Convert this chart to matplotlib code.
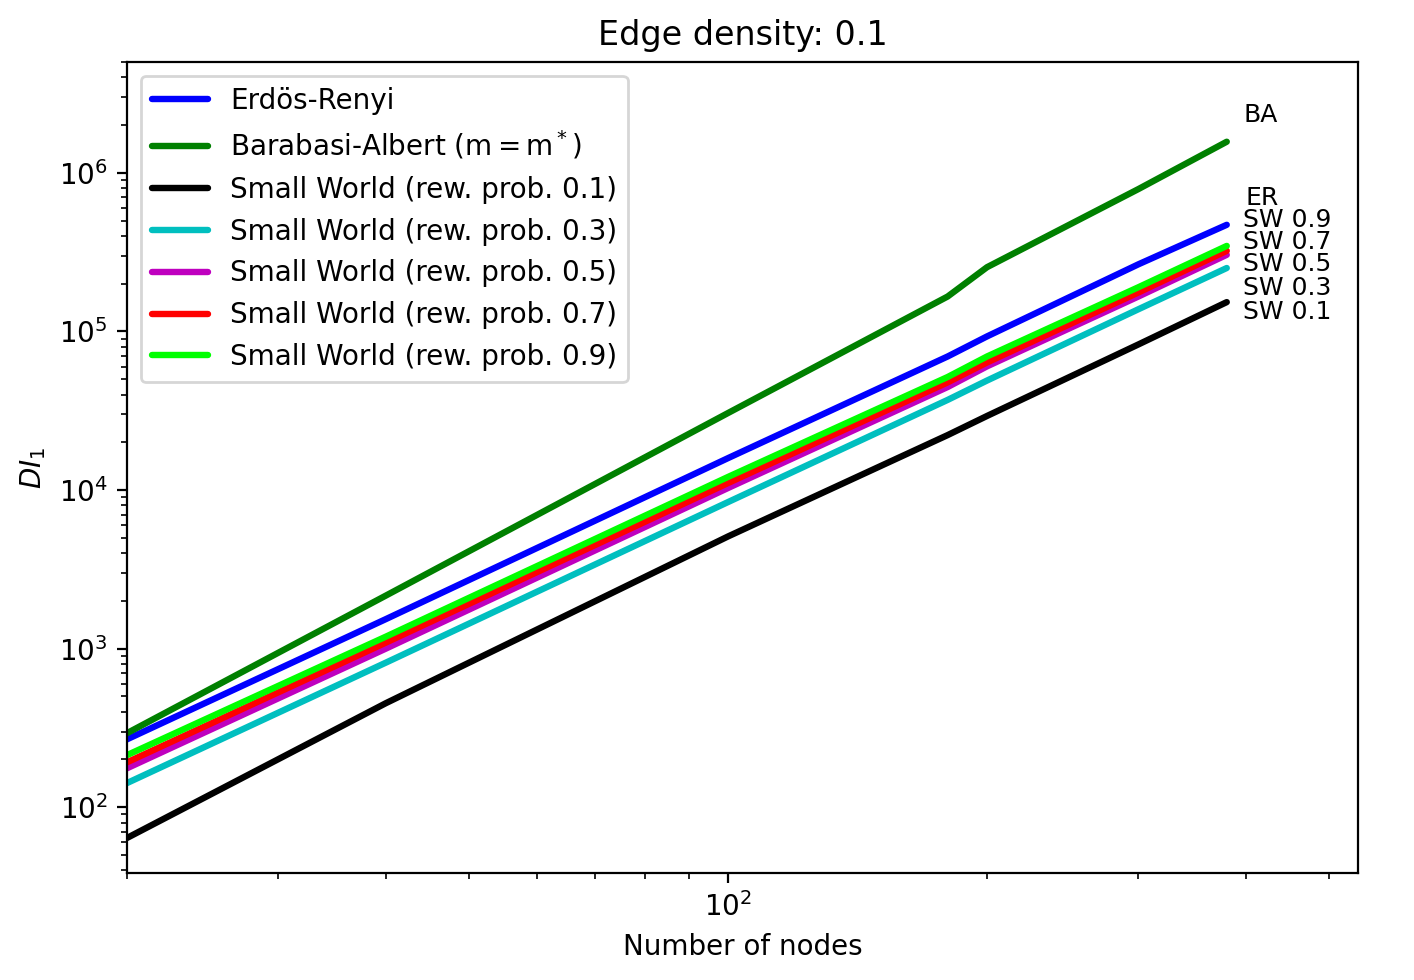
import matplotlib
matplotlib.use("Agg")
import matplotlib.pyplot as plt

nodes = [20, 40, 100, 180, 200, 300, 380]
er = [268, 1535, 15900, 69500, 93000, 265000, 470000]
ba = [293, 2160, 30600, 166000, 254000, 790000, 1570000]
sw01 = [64, 453, 5100, 22200, 29300, 82800, 153000]
sw03 = [142, 816, 8400, 37000, 49000, 138000, 251000]
sw05 = [176, 1000, 10300, 44600, 60200, 166000, 304000]
sw07 = [192, 1091, 11070, 47700, 63700, 176000, 322000]
sw09 = [213, 1190, 12100, 51600, 69500, 190000, 346000]

series = [
    ("Erdös-Renyi", er, "b"),
    (r"Barabasi-Albert $(\mathrm{m = m^*})$", ba, "g"),
    ("Small World (rew. prob. 0.1)", sw01, "k"),
    ("Small World (rew. prob. 0.3)", sw03, "c"),
    ("Small World (rew. prob. 0.5)", sw05, "m"),
    ("Small World (rew. prob. 0.7)", sw07, "r"),
    ("Small World (rew. prob. 0.9)", sw09, "lime"),
]

end_labels = ["BA", "ER", "SW 0.9", "SW 0.7", "SW 0.5", "SW 0.3", "SW 0.1"]
label_pos = [(397, 2.32e6), (400, 6.95e5), (397, 5.05e5), (397, 3.67e5),
             (397, 2.67e5), (397, 1.88e5), (397, 1.33e5)]

fig = plt.figure(figsize=(7.07, 4.9), dpi=200)
ax = fig.add_axes([0.0898, 0.1092, 0.8706, 0.8276])
for name, vals, col in series:
    ax.plot(nodes, vals, color=col, lw=2.3, label=name, solid_capstyle="round")

for txt, (xx, yy) in zip(end_labels, label_pos):
    ax.text(xx, yy, txt, fontsize=9, ha="left", va="center")

ax.set_xscale("log")
ax.set_yscale("log")
ax.set_xlim(20, 540)
ax.set_ylim(38.5, 5.0e6)
ax.set_title("Edge density: 0.1", fontsize=12)
ax.set_xlabel("Number of nodes", fontsize=10)
ax.set_ylabel(r"$DI_1$", fontsize=10)
ax.legend(loc="upper left", fontsize=10)
fig.savefig("out.png", dpi=200)
